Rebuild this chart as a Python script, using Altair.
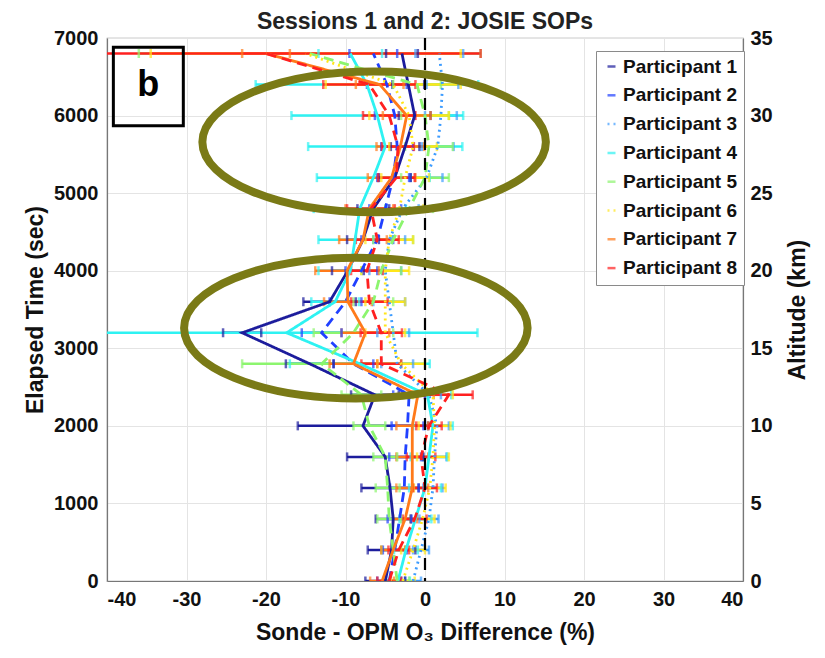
import altair as alt
import pandas as pd

# ---------------- data ----------------
times = [0, 400, 800, 1200, 1600, 2000, 2400, 2800, 3200, 3600,
         4000, 4400, 4800, 5200, 5600, 6000, 6400, 6800]

participants = [f"Participant {i}" for i in range(1, 9)]

p1 = [-5.0, -4.2, -4.0, -4.4, -5.0, -7.8, -6.3, -14.5, -23.0, -12.0, -9.7, -7.8, -6.5, -3.8, -2.5, -1.3, -2.1, -2.9]
p2 = [-4.5, -3.8, -3.2, -2.6, -2.5, -2.2, -2.0, -9.0, -13.0, -10.0, -8.0, -6.0, -5.0, -4.0, -3.5, -3.8, -4.8, -6.5]
p3 = [-1.5, -0.5, 0.5, 1.0, 1.2, 1.5, 0.5, -3.5, -4.0, -4.5, -5.0, -4.5, -2.8, 0.2, 1.6, 2.0, 2.2, 1.8]
p4 = [-3.4, -2.4, -1.2, 0.0, 0.5, 1.0, 0.3, -8.2, -17.4, -11.3, -9.4, -8.8, -8.2, -6.5, -5.0, -6.0, -7.3, -9.4]
p5 = [-3.5, -4.0, -4.5, -4.7, -5.0, -7.0, -8.0, -13.0, -9.0, -6.5, -5.5, -4.0, -2.0, 0.0, 0.5, 0.0, -1.0, -14.5]
p6 = [-2.8, -1.5, -0.3, 0.6, 1.0, 1.2, 1.0, -3.0, -5.0, -5.0, -5.0, -4.5, -3.2, -2.5, -1.5, -2.0, -4.0, -15.0]
p7 = [-5.4, -4.0, -2.5, -1.6, -1.6, -1.6, -0.9, -9.0, -7.5, -9.7, -9.8, -7.8, -7.0, -4.2, -3.1, -2.3, -5.7, -20.0]
p8 = [-4.5, -3.3, -1.3, 0.0, -0.5, 0.5, 3.0, -5.5, -5.5, -7.0, -7.3, -6.0, -6.8, -3.6, -3.4, -4.5, -7.0, -20.0]

e1 = [2.5, 3.0, 2.2, 3.6, 4.8, 8.2, 3.0, 3.0, 2.4, 3.3, 2.0, 2.0, 2.0, 2.0, 1.8, 2.0, 2.0, 2.0]
e2 = [1.5, 1.5, 1.5, 1.8, 2.0, 2.0, 2.0, 2.5, 2.5, 2.0, 2.0, 2.0, 2.0, 2.0, 2.0, 2.5, 2.5, 3.0]
e3 = [1.0, 1.0, 1.2, 1.2, 1.5, 1.5, 1.5, 2.0, 2.0, 2.0, 2.0, 2.0, 2.0, 2.0, 2.0, 2.0, 2.0, 3.0]
e4 = [1.5, 1.5, 2.0, 2.0, 2.3, 2.5, 3.0, 8.8, 24.0, 3.0, 4.0, 4.6, 5.8, 7.1, 9.7, 10.8, 14.0, 4.0]
e5 = [1.5, 1.5, 1.5, 1.5, 1.5, 2.0, 2.5, 10.0, 5.0, 2.5, 2.5, 2.5, 3.0, 3.0, 3.0, 3.0, 3.0, 21.5]
e6 = [1.5, 1.5, 1.5, 2.0, 2.0, 2.0, 2.5, 3.0, 2.5, 2.5, 3.0, 3.0, 3.0, 3.0, 3.0, 5.0, 8.5, 19.5]
e7 = [1.5, 1.5, 1.5, 2.0, 2.0, 2.0, 2.0, 3.0, 3.0, 3.0, 4.0, 3.0, 3.0, 3.0, 3.0, 3.0, 3.0, 3.0]
e8 = [1.5, 1.3, 1.5, 1.5, 1.8, 1.6, 3.0, 2.5, 2.6, 2.3, 2.0, 2.7, 3.0, 2.3, 2.0, 3.3, 5.8, 27.0]

values = [p1, p2, p3, p4, p5, p6, p7, p8]
errors = [e1, e2, e3, e4, e5, e6, e7, e8]

colors = ["#1c1c9c", "#2040ff", "#3d9cff", "#2ef2f2",
          "#8cf56e", "#ffe61a", "#ff7a1a", "#ff2020"]
dashes = [[1, 0], [10, 6], [2, 4], [1, 0], [10, 6], [2, 4], [1, 0], [10, 6]]

x_ticks = [-40, -30, -20, -10, 0, 10, 20, 30, 40]
y_ticks = [0, 1000, 2000, 3000, 4000, 5000, 6000, 7000]
alt_ticks = [0, 5, 10, 15, 20, 25, 30, 35]

# annotations (data coordinates)
ellipse_x = [-6.4, -8.7]
ellipse_t = [5660, 3260]
box_x = [-39.2]
box_x2 = [-30.4]
box_t = [5870]
box_t2 = [6880]
box_label = ["b"]

# ---------------- tables ----------------
rows = []
for name, vals, errs in zip(participants, values, errors):
    for t, v, e in zip(times, vals, errs):
        rows.append({"participant": name, "time": t, "diff": v,
                     "lo": v - e, "hi": v + e})
df = pd.DataFrame(rows)
caps = pd.concat([
    df[["participant", "time", "lo"]].rename(columns={"lo": "end"}),
    df[["participant", "time", "hi"]].rename(columns={"hi": "end"}),
])

FONT = "Liberation Sans"

xscale = alt.Scale(domain=[-40, 40], nice=False, zero=False)
yscale = alt.Scale(domain=[0, 7000], nice=False)

leg = alt.Legend(title=None, orient="none", legendX=489, legendY=13,
                 fillColor="white", strokeColor="#8a8a8a", padding=6,
                 labelFont=FONT, labelFontSize=19, labelFontWeight="bold",
                 labelColor="#111", symbolType="stroke", symbolStrokeWidth=2.5,
                 symbolSize=64, rowPadding=8.8, labelOffset=2)
color = alt.Color("participant:N", scale=alt.Scale(domain=participants, range=colors), legend=leg)
dash = alt.StrokeDash("participant:N", scale=alt.Scale(domain=participants, range=dashes), legend=leg)

x_axis = alt.Axis(values=x_ticks, title="Sonde - OPM O\u2083 Difference (%)",
                  labelExpr="'' + datum.value", grid=True, ticks=False,
                  labelPadding=8, titlePadding=12)
y_axis = alt.Axis(values=y_ticks, title="Elapsed Time (sec)", grid=True,
                  labelExpr="'' + datum.value",
                  ticks=False, labelPadding=9, titlePadding=6)

base = alt.Chart(df)

bars = base.mark_rule(strokeWidth=2.5, clip=True).encode(
    x=alt.X("lo:Q", scale=xscale, axis=x_axis),
    x2="hi:Q",
    y=alt.Y("time:Q", scale=yscale, axis=y_axis),
    color=color,
)
capmarks = alt.Chart(caps).mark_tick(orient="vertical", size=9, thickness=2.5, clip=True).encode(
    x=alt.X("end:Q", scale=xscale),
    y=alt.Y("time:Q", scale=yscale),
    color=color,
)
lines = base.mark_line(strokeWidth=2.8, clip=True).encode(
    x=alt.X("diff:Q", scale=xscale),
    y=alt.Y("time:Q", scale=yscale),
    color=color,
    strokeDash=dash,
    order=alt.Order("time:Q"),
)

zero = alt.Chart(pd.DataFrame({"x": [0]})).mark_rule(
    color="black", strokeWidth=2.2, strokeDash=[12, 8]).encode(x=alt.X("x:Q", scale=xscale))

ELL = "M -1 0 A 1 0.41 0 1 1 1 0 A 1 0.41 0 1 1 -1 0 Z"
ellipses = alt.Chart(pd.DataFrame({"x": ellipse_x, "t": ellipse_t})).mark_point(
    shape=ELL, size=118000, filled=False, strokeWidth=8, color="#7a7a16", opacity=1
).encode(x=alt.X("x:Q", scale=xscale), y=alt.Y("t:Q", scale=yscale))

boxdf = pd.DataFrame({"x": box_x, "x2": box_x2, "t": box_t, "t2": box_t2, "lab": box_label})
box = alt.Chart(boxdf).mark_rect(fill="white", fillOpacity=0, stroke="black", strokeWidth=3).encode(
    x=alt.X("x:Q", scale=xscale), x2="x2:Q", y=alt.Y("t:Q", scale=yscale), y2="t2:Q")
boxtext = alt.Chart(boxdf).transform_calculate(
    cx="(datum.x + datum.x2) / 2", ct="(datum.t + datum.t2) / 2").mark_text(
    font=FONT, fontSize=36, fontWeight="bold", color="black", baseline="middle", dy=-1).encode(
    x=alt.X("cx:Q", scale=xscale), y=alt.Y("ct:Q", scale=yscale), text="lab:N")

main = alt.layer(bars, capmarks, lines, zero, ellipses, box, boxtext)

altdf = pd.DataFrame({"a": [0, 35]})
right = alt.Chart(altdf).mark_point(opacity=0).encode(
    y=alt.Y("a:Q", scale=alt.Scale(domain=[0, 35], nice=False),
            axis=alt.Axis(orient="right", values=alt_ticks, title="Altitude (km)",
                          grid=False, ticks=False, labelPadding=7, titlePadding=37,
                          titleAngle=270)),
)

chart = alt.layer(main, right).resolve_scale(y="independent").properties(
    width=636, height=543,
    background="white",
    title=alt.Title("Sessions 1 and 2: JOSIE SOPs", font=FONT, fontSize=23,
                    fontWeight="bold", color="#222", offset=-6),
    autosize=alt.AutoSizeParams(type="none"),
    padding={"left": 99, "top": 30, "right": 74, "bottom": 69},
).configure_axis(
    labelFont=FONT, labelFontSize=20, labelFontWeight="bold", labelColor="#111",
    titleFont=FONT, titleFontSize=23, titleFontWeight="bold", titleColor="#111",
    gridColor="#e4e4e4", gridWidth=1, domainColor="#777", domainWidth=1.2,
).configure_view(stroke="#999", strokeWidth=1.2)

chart.save("out.html", embed_options={"renderer": "svg", "actions": False})
